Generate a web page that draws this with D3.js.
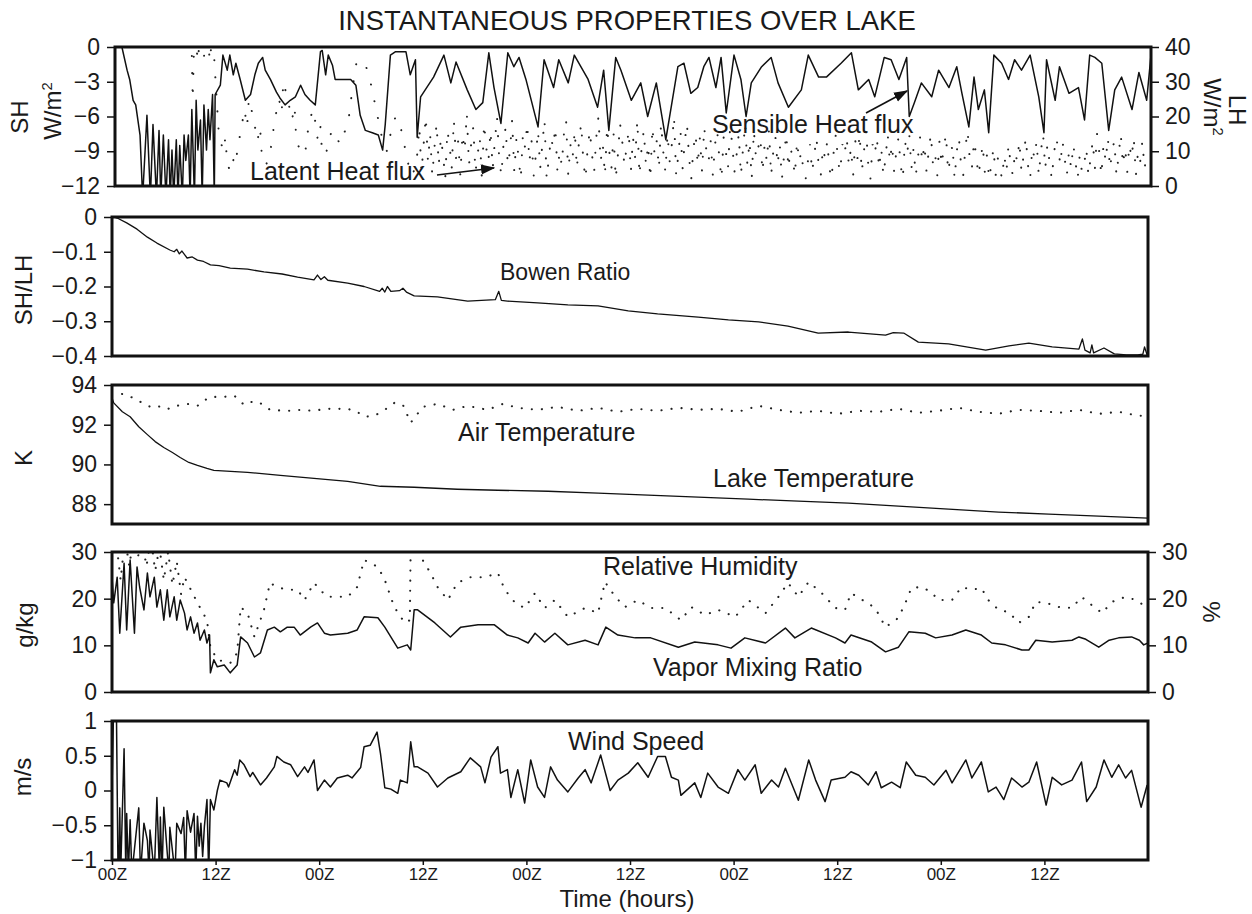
<!DOCTYPE html>
<html><head><meta charset="utf-8">
<script src="https://cdn.jsdelivr.net/npm/d3@7"></script>
<style>
body{margin:0;background:#fff}
text{font-family:"Liberation Sans",Arial,Helvetica,sans-serif;fill:#1a1a1a}
</style>
</head><body>
<svg id="c" width="1252" height="914"></svg>
<script>
// ---------------- DATA (hour, value) ----------------
const timeTicks = [0,12,24,36,48,60,72,84,96,108];
const timeTickLabels = ["00Z","12Z","00Z","12Z","00Z","12Z","00Z","12Z","00Z","12Z"];

const sensibleHeat = [[0.8,0],[1.4,-2.0],[1.7,-2.8],[2.1,-4.6],[2.4,-5.0],[2.9,-7.6],[3.2,-13],[3.7,-5.9],[4.1,-13],[4.4,-6.7],[4.8,-13],[5.1,-7.2],[5.3,-13],[5.6,-7.6],[5.9,-13],[6.2,-8.0],[6.4,-13],[6.6,-8.9],[6.8,-13],[7.1,-8.0],[7.3,-13],[7.5,-8.5],[7.8,-13],[8.0,-7.6],[8.2,-9.8],[8.5,-7.6],[8.7,-13],[8.9,-5.4],[9.2,-13],[9.4,-4.6],[9.6,-8.9],[9.9,-6.3],[10.1,-13],[10.3,-5.0],[10.6,-8.9],[10.8,-5.4],[11.0,-8.0],[11.3,-4.1],[11.5,-13],[11.6,-4.1],
[12.2,-3.3],[12.5,-0.7],[13.0,-2.0],[13.3,-0.7],[13.7,-2.4],[14.0,-1.4],[14.5,-2.8],[15.1,-4.6],[15.7,-4.1],[16.2,-2.4],[16.6,-1.4],[17.1,-0.9],[17.4,-2.0],[18.0,-2.8],[18.7,-3.9],[19.1,-4.4],[19.7,-5.0],[20.3,-4.6],[20.9,-4.3],[21.5,-3.3],[22.0,-4.1],[22.6,-4.6],[23.2,-5.0],[23.8,-0.4],[24.0,-0.3],[24.4,-2.4],[24.7,-0.7],[25.2,-1.6],[25.5,-2.8],[26.7,-2.8],[27.3,-2.8],[27.9,-3.3],[28.4,-5.9],[29.0,-7.2],[29.8,-7.4],[30.5,-7.6],[31.0,-8.9],[31.3,-6.7],[31.9,-0.7],[32.5,-0.4],[33.7,-0.4],[34.2,-2.4],[34.8,-1.1],[35.0,-7.8],[35.4,-4.3],[36.9,-2.6],[38.1,-0.7],[38.9,-3.1],[39.5,-1.3],[40.8,-3.7],[41.8,-5.4],[42.6,-4.8],[43.3,-0.5],[43.9,-3.5],[44.7,-6.6],[45.5,-0.5],[46.2,-1.7],[46.8,-0.9],[47.6,-2.8],[49.0,-6.9],[49.7,-1.1],[50.8,-3.5],[51.4,-1.1],[52.5,-3.1],[53.2,-0.7],[54.8,-2.8],[55.9,-5.2],[56.6,-2.0],[57.2,-7.2],[58.0,-0.9],[58.6,-2.0],[59.8,-4.6],[60.9,-3.1],[61.7,-6.0],[62.7,-3.1],[63.8,-8.0],[65.2,-1.7],[65.9,-1.4],[66.7,-4.0],[67.5,-3.5],[68.2,-1.7],[68.8,-0.9],[69.6,-3.5],[70.2,-0.9],[70.8,-5.7],[71.7,-0.7],[72.5,-2.8],[73.1,-6.0],[73.7,-3.1],[74.9,-1.7],[76.0,-0.9],[76.8,-3.1],[78.0,-5.2],[79.5,-3.7],[80.3,-0.7],[81.5,-2.6],[82.4,-2.6],[84.1,-1.4],[85.3,-0.5],[86.1,-3.7],[87.3,-2.8],[88.0,-4.3],[89.1,-0.9],[89.9,-1.1],[90.8,-2.8],[91.7,-0.9],[92.0,-6.0],[92.6,-4.8],[93.4,-3.1],[94.6,-4.3],[95.4,-2.0],[96.6,-3.5],[97.5,-1.7],[98.1,-4.0],[98.9,-6.9],[99.5,-2.6],[100.0,-5.4],[100.7,-3.7],[101.2,-7.4],[101.8,-0.7],[102.7,-1.4],[103.5,-2.8],[104.2,-1.1],[105.0,-2.0],[106.0,-0.7],[107.0,-4.3],[107.6,-7.4],[107.9,-1.1],[108.9,-4.6],[109.4,-1.7],[110.5,-4.0],[111.6,-3.5],[112.3,-6.3],[112.9,-0.7],[113.5,-0.9],[114.3,-1.4],[115.1,-7.2],[115.8,-3.7],[116.6,-2.6],[117.8,-5.4],[118.6,-2.2],[119.5,-4.6],[120.0,-0.7]];

// Latent heat, first 35 h as (hour, value) pairs
const latentHeatEarly = [[0,50],[8.8,50],[9.0,25],[9.2,45],[9.6,36],[9.9,45],[10.3,37],[10.6,45],[11.0,36],[11.3,45],[11.7,28],[12.0,16],[12.5,10],[12.8,14],[13.0,6],[13.5,4],[13.8,9],[14.0,7.5],[14.5,15],[15.0,22],[15.3,17],[15.5,25],[16.0,20],[16.5,13],[16.8,17],[17.0,9],[17.5,6],[18.0,10],[18.5,19],[19.0,25],[19.3,21],[19.5,30],[20.0,25],[20.5,19],[20.8,23],[21.0,13],[21.5,10],[22.0,9],[22.5,19],[23.0,22],[23.5,13],[23.8,17],[24.0,9],[24.5,10],[25.0,15],[25.5,16],[26.0,12],[26.5,15],[27.0,18],[27.5,28],[28.0,36],[28.5,36],[29.0,35],[29.5,31],[30.0,25],[30.5,19],[31.0,13],[31.5,10],[32.0,16],[32.5,20],[33.0,18],[33.5,12],[34.0,6],[34.5,3]];
// Latent heat from 35 h to 120 h, one value every 15 minutes
const latentHeatStart = 35, latentHeatStep = 0.25;
const latentHeatLate = [9,17,4,12,20,7,15,3,11,18,6,14,9,2,16,12,5,19,8,13,
3,15,10,21,6,12,17,4,9,14,2,18,11,7,16,5,13,20,8,3,
12,17,6,10,19,4,14,8,2,15,11,18,7,13,3,9,16,5,12,19,
2,8,14,11,17,4,10,6,15,19,3,12,8,16,5,13,18,7,2,11,
16,9,4,14,20,7,12,3,17,10,5,15,2,9,18,13,6,11,16,4,
14,8,19,3,11,16,6,12,2,17,9,13,5,18,10,4,15,7,12,20,
3,9,16,5,13,18,8,2,11,15,6,14,4,17,10,7,13,3,12,16,
8,2,14,10,5,17,12,4,9,15,3,11,18,6,13,2,16,8,11,14,
4,12,7,16,3,10,14,6,12,2,9,15,5,11,8,3,13,7,10,4,
2,7,12,4,9,14,6,3,11,8,13,5,2,10,15,7,4,12,9,14,
6,11,3,13,8,15,4,10,16,6,2,12,9,14,5,11,3,8,15,7,
12,4,10,14,6,2,13,9,15,5,11,3,8,14,7,12,4,10,15,6,
9,3,13,6,11,15,4,8,12,2,10,14,6,3,11,16,8,5,13,9,
3,7,12,4,9,2,6,11,3,8,5,2,9,4,12,6,3,10,7,13,
4,9,14,6,2,11,8,13,3,10,15,5,12,7,2,9,14,11,6,13,
8,3,10,5,12,7,2,9,4,6,11,3,8,13,5,15,10,3,12,7,
14,5,10,13,3,9,15,6,11,4,12,8,14,3,10,7,13,5,9,8,8];

const bowenRatio = [[0.2,0],[0.6,-0.003],[1.7,-0.017],[2.9,-0.035],[4.1,-0.058],[5.2,-0.075],[6.7,-0.095],[7.2,-0.100],[7.5,-0.093],[7.8,-0.106],[8.1,-0.098],[8.7,-0.118],[9.3,-0.115],[9.9,-0.124],[10.6,-0.128],[11.4,-0.138],[12.4,-0.140],[13.7,-0.147],[15.7,-0.150],[17.6,-0.158],[19.7,-0.164],[21.5,-0.173],[23.4,-0.181],[23.8,-0.167],[24.2,-0.180],[24.6,-0.172],[25.0,-0.182],[27.3,-0.190],[29.2,-0.200],[31.0,-0.214],[31.3,-0.205],[31.6,-0.216],[31.9,-0.200],[32.3,-0.214],[33.3,-0.212],[33.7,-0.205],[34.1,-0.216],[35.0,-0.227],[37.7,-0.230],[41.2,-0.242],[44.4,-0.238],[44.8,-0.214],[45.1,-0.240],[45.8,-0.242],[49.3,-0.247],[52.8,-0.253],[56.3,-0.256],[59.8,-0.270],[63.2,-0.279],[67.9,-0.288],[71.4,-0.296],[74.9,-0.302],[78.3,-0.314],[81.8,-0.334],[85.3,-0.331],[89.6,-0.340],[90.5,-0.333],[91.7,-0.334],[93.4,-0.360],[96.9,-0.365],[101.2,-0.383],[103.9,-0.371],[106.2,-0.363],[108.9,-0.374],[112.0,-0.380],[112.4,-0.351],[112.7,-0.383],[113.3,-0.391],[113.5,-0.368],[113.7,-0.391],[114.9,-0.377],[116.1,-0.394],[117.5,-0.397],[118.8,-0.397],[119.4,-0.395],[119.6,-0.374],[119.9,-0.397]];

const airTemp = [[0.0,93.6],[0.6,93.6],[1.7,93.5],[2.9,93.25],[4.1,92.95],[4.9,92.85],[5.8,92.95],[6.6,92.8],[7.5,92.95],[8.7,93.05],[9.9,92.95],[10.4,93.15],[11.4,93.4],[12.8,93.4],[14.2,93.45],[15.3,93.0],[16.5,93.2],[17.6,93.0],[18.3,92.75],[20.3,92.7],[22.0,92.75],[23.2,92.7],[24.9,92.8],[27.3,92.8],[28.4,92.65],[29.2,92.4],[30.4,92.45],[31.6,92.75],[32.7,93.1],[33.7,93.0],[34.6,92.1],[36.0,92.9],[37.7,93.05],[39.5,92.75],[41.2,92.95],[43.5,92.75],[45.3,93.05],[47.0,92.85],[49.3,92.75],[51.6,92.9],[54.0,92.7],[56.3,92.85],[58.6,92.65],[60.9,92.8],[63.2,92.7],[65.6,92.85],[67.9,92.75],[70.2,92.8],[72.5,92.65],[74.9,92.95],[77.2,92.75],[79.5,92.6],[81.8,92.7],[84.1,92.55],[86.5,92.7],[88.8,92.65],[91.1,92.8],[93.4,92.6],[95.7,92.7],[98.1,92.85],[100.4,92.65],[102.7,92.55],[105.0,92.75],[107.3,92.7],[109.7,92.6],[112.0,92.75],[114.3,92.55],[116.6,92.65],[118.9,92.45],[120.0,92.45]];

const lakeTemp = [[0.0,93.35],[0.2,93.1],[1.2,92.65],[2.1,92.4],[3.1,91.9],[4.1,91.5],[5.0,91.15],[6.0,90.85],[7.0,90.6],[7.9,90.35],[8.9,90.1],[9.9,89.95],[11.0,89.8],[11.8,89.7],[15.7,89.6],[19.5,89.45],[23.4,89.3],[27.3,89.15],[31.1,88.9],[35.0,88.85],[40.0,88.75],[44.7,88.7],[50.5,88.65],[56.3,88.55],[62.1,88.45],[67.9,88.35],[73.7,88.25],[79.5,88.15],[85.3,88.05],[91.1,87.9],[96.9,87.75],[102.7,87.6],[108.5,87.5],[114.3,87.4],[120.0,87.3]];

const vaporMixing = [[0.0,24.6],[0.2,19.1],[0.6,24.6],[0.9,12.6],[1.4,27.6],[1.7,13.3],[2.1,28.3],[2.6,12.6],[2.9,26.8],[3.2,22.5],[3.7,17.6],[4.1,25.5],[4.4,20.4],[4.9,24.6],[5.2,18.2],[5.6,21.9],[6.0,15.4],[6.4,21.9],[6.7,16.1],[7.2,20.4],[7.5,15.4],[7.9,19.7],[8.4,16.9],[8.7,13.3],[9.1,16.1],[9.5,12.6],[9.9,14.8],[10.2,11.1],[10.7,13.3],[11.0,10.5],[11.3,12.2],[11.4,4.1],[11.8,6.9],[12.2,5.4],[13.0,5.8],[13.7,4.1],[14.5,5.8],[14.9,11.8],[15.7,10.5],[16.5,7.5],[17.2,8.4],[18.0,13.3],[18.8,13.9],[19.5,12.9],[20.3,13.9],[21.1,13.9],[21.8,12.2],[23.0,13.9],[23.8,14.8],[24.6,12.6],[25.3,12.2],[27.3,12.6],[28.4,13.3],[29.2,16.1],[30.8,15.9],[31.6,13.9],[33.1,9.4],[34.2,10.1],[34.6,9.0],[35.0,17.6],[35.4,17.6],[37.4,14.8],[39.2,11.8],[40.4,13.9],[42.4,14.4],[44.3,14.4],[45.8,12.2],[47.0,11.6],[48.2,10.5],[49.0,12.6],[50.1,10.7],[51.3,12.6],[52.8,10.1],[54.8,11.1],[56.3,10.1],[57.2,13.9],[58.6,12.2],[60.6,11.6],[62.4,11.6],[65.6,9.6],[67.5,10.7],[70.2,10.1],[71.7,9.4],[73.3,11.6],[75.7,10.5],[78.0,13.7],[79.1,11.6],[81.0,13.7],[83.8,11.6],[84.9,10.5],[85.6,12.2],[88.0,10.7],[89.6,8.6],[91.1,9.6],[92.3,12.9],[94.2,12.6],[95.4,11.6],[97.3,12.2],[98.9,13.3],[100.7,12.2],[101.9,10.5],[103.5,10.1],[105.4,9.0],[106.2,9.0],[107.0,11.1],[108.9,10.7],[111.2,11.1],[112.0,11.8],[112.8,11.3],[114.3,9.6],[115.5,11.1],[116.6,11.6],[118.1,11.8],[119.0,11.1],[119.5,10.1],[120.0,10.5]];

const relHumidity = [[0.0,29],[0.5,32],[1.0,24],[1.5,33],[2.0,27],[2.5,33],[3.0,29],[3.5,32],[4.0,27],[4.5,33],[5.0,26],[5.5,31],[6.0,24],[6.5,30],[7.0,23],[7.5,28],[8.0,21],[8.4,24.6],[9.9,19.1],[11.0,15.4],[11.4,9.6],[12.2,6.9],[13.7,6.2],[14.5,8.4],[14.9,18.2],[15.7,16.9],[16.5,11.8],[17.6,17.6],[18.3,23.4],[19.1,22.5],[20.3,21.9],[21.5,21.9],[22.3,19.7],[23.4,23.4],[24.1,21.9],[24.9,20.4],[27.3,20.4],[28.4,22.5],[29.2,28.3],[30.8,26.8],[31.6,24.0],[32.7,18.2],[33.9,14.8],[34.5,15.4],[34.6,32],[34.8,32],[36.2,27.6],[36.9,25.5],[37.7,22.5],[38.9,19.7],[40.0,23.4],[41.5,24.6],[43.2,24.6],[44.7,25.5],[45.5,21.9],[46.7,19.1],[47.8,18.0],[49.0,21.2],[50.1,18.0],[51.3,19.7],[52.8,16.1],[54.8,18.0],[56.3,16.9],[57.1,23.6],[58.3,20.4],[59.4,18.2],[60.9,19.7],[62.4,18.0],[64.1,18.0],[65.9,15.4],[67.1,18.2],[68.7,16.5],[70.2,17.6],[72.2,16.1],[73.7,19.7],[75.7,16.9],[77.2,20.4],[78.3,23.4],[79.5,20.4],[80.7,23.6],[82.2,21.2],[83.8,18.0],[84.9,17.6],[85.6,21.2],[87.3,19.3],[88.4,18.0],[89.6,13.9],[91.1,15.9],[91.9,19.1],[92.6,22.3],[93.8,22.5],[94.9,21.4],[95.7,19.7],[97.3,19.7],[98.4,22.5],[99.6,21.9],[100.7,22.3],[101.5,19.7],[102.7,17.6],[103.9,17.1],[105.0,14.8],[106.2,16.1],[107.0,19.3],[108.2,19.1],[109.7,18.2],[111.2,18.0],[112.3,20.4],[113.5,18.6],[114.7,16.9],[115.8,19.3],[117.4,20.4],[118.6,19.7],[119.5,18.6],[120.0,17.6]];

const windSpeed = [[0.0,0.0],[0.2,1.3],[0.5,1.3],[0.7,-1.2],[0.8,-1.2],[0.9,-0.25],[1.0,-1.2],[1.4,0.6],[1.6,-1.2],[1.7,-0.33],[1.9,-1.2],[2.1,-0.42],[2.3,-1.2],[3.1,-0.25],[3.3,-1.2],[3.7,-0.47],[4.1,-0.72],[4.3,-1.2],[4.4,-0.57],[4.9,-1.2],[5.2,-0.1],[5.5,-1.2],[5.6,-0.38],[5.8,-1.2],[6.0,-0.24],[6.4,-0.9],[6.6,-1.2],[6.7,-0.53],[7.3,-1.2],[7.5,-0.47],[8.0,-0.62],[8.3,-0.39],[8.5,-1.2],[8.7,-0.29],[9.1,-0.6],[9.5,-0.33],[9.7,-1.2],[9.9,-0.37],[10.1,-0.8],[10.3,-0.47],[10.5,-0.95],[10.7,-0.52],[11.0,-0.13],[11.2,-1.2],[11.4,-0.13],[11.8,-0.28],[12.2,0.0],[12.5,0.15],[13.3,0.11],[13.5,0.05],[14.2,0.3],[14.5,0.22],[14.8,0.44],[15.3,0.37],[16.0,0.2],[16.3,0.26],[17.2,0.08],[17.9,0.18],[18.8,0.34],[19.1,0.49],[19.9,0.41],[20.7,0.37],[21.5,0.2],[22.3,0.34],[22.7,0.26],[23.4,0.44],[23.8,0.0],[24.6,0.15],[25.3,0.05],[26.1,0.18],[27.3,0.22],[27.8,0.18],[28.8,0.33],[29.2,0.63],[29.9,0.65],[30.7,0.84],[31.1,0.53],[31.6,0.04],[32.3,0.02],[33.1,-0.04],[33.4,0.15],[34.2,0.11],[34.6,0.7],[35.0,0.34],[35.4,0.34],[36.6,0.25],[37.7,0.05],[38.9,0.18],[40.4,0.27],[41.5,0.47],[42.7,0.34],[43.2,0.11],[43.9,0.48],[44.7,0.63],[45.0,0.25],[45.8,0.3],[46.2,-0.1],[47.0,0.3],[47.8,-0.18],[48.5,0.44],[49.3,0.05],[50.1,-0.1],[50.8,0.34],[51.6,0.15],[52.8,-0.02],[54.0,0.18],[54.8,0.3],[55.5,0.11],[56.6,0.51],[57.7,0.0],[58.6,0.15],[59.8,0.25],[60.9,0.4],[62.1,0.19],[63.2,0.49],[64.1,0.49],[64.8,0.19],[65.6,0.15],[65.9,-0.07],[67.5,0.11],[68.2,-0.1],[69.0,0.25],[70.2,0.05],[71.4,-0.04],[72.5,0.3],[73.3,0.15],[74.5,0.37],[75.2,-0.04],[76.4,0.15],[77.2,0.05],[78.0,0.32],[79.5,-0.14],[80.7,0.44],[81.5,0.15],[82.6,-0.16],[83.3,0.15],[84.9,0.19],[85.6,0.27],[86.5,0.22],[87.6,0.08],[88.5,0.27],[89.1,0.04],[90.3,0.12],[91.3,0.04],[92.0,0.41],[93.1,0.22],[94.2,0.19],[95.2,0.08],[96.6,0.29],[97.3,0.11],[98.9,0.44],[99.6,0.18],[100.7,0.41],[101.5,-0.02],[102.4,0.05],[103.3,-0.13],[104.2,0.18],[105.4,0.05],[106.2,0.12],[107.1,0.41],[108.2,-0.21],[108.9,0.19],[110.0,0.08],[111.2,0.15],[112.3,0.41],[112.9,-0.16],[114.0,0.05],[114.9,0.44],[115.8,0.19],[116.6,0.37],[117.4,0.18],[118.1,0.29],[119.2,-0.24],[119.9,0.08]];

const shTicks = [0,-3,-6,-9,-12];
const lhTicks = [0,10,20,30,40];
const bowenTicks = [0,-0.1,-0.2,-0.3,-0.4];
const tempTicks = [88,90,92,94];
const qTicks = [0,10,20,30];
const rhTicks = [0,10,20,30];
const windTicks = [-1,-0.5,0,0.5,1];

// ---------------- DRAWING ----------------
const latentHeat = latentHeatEarly.concat(latentHeatLate.map((v,i)=>[latentHeatStart+i*latentHeatStep, v]));
const fmt = d => d===0 ? "0" : (d<0 ? "\u2212" : "") + String(Math.abs(d));
const svg = d3.select("#c");
const ink = "#111";
const defs = svg.append("defs");
defs.append("marker").attr("id","arr").attr("viewBox","0 0 10 10").attr("refX",9).attr("refY",5)
  .attr("markerWidth",9).attr("markerHeight",9).attr("orient","auto-start-reverse")
  .append("path").attr("d","M0,1.5 L10,5 L0,8.5 Z").attr("fill",ink);

const panelDefs = [
  {x0:115,x1:1151,top:47,bottom:186},
  {x0:112,x1:1148,top:217,bottom:356},
  {x0:112,x1:1148,top:385,bottom:524},
  {x0:112,x1:1148,top:552,bottom:692},
  {x0:112,x1:1148,top:721,bottom:860}
];

function styleAxis(ax, fs){
  ax.attr("font-size",fs).attr("font-family",'"Liberation Sans",Arial,sans-serif');
  ax.select(".domain").remove();
  ax.selectAll("line").attr("stroke",ink).attr("stroke-width",1.5);
  ax.selectAll("text").attr("font-size",fs).style("font-size",fs+"px").attr("fill",ink);
}
function makePanel(i, yDomain, ticks){
  const p = panelDefs[i];
  const x = d3.scaleLinear().domain([0,120]).range([p.x0,p.x1]);
  const y = d3.scaleLinear().domain(yDomain).range([p.bottom,p.top]);
  defs.append("clipPath").attr("id","clip"+i).append("rect")
    .attr("x",p.x0).attr("y",p.top).attr("width",p.x1-p.x0).attr("height",p.bottom-p.top);
  const g = svg.append("g");
  const plot = g.append("g").attr("clip-path",`url(#clip${i})`);
  const ax = g.append("g").attr("transform",`translate(${p.x0},0)`)
    .call(d3.axisLeft(y).tickValues(ticks).tickSize(8).tickPadding(7).tickFormat(fmt));
  styleAxis(ax, 23);
  return {x,y,g,plot,p};
}
function frame(P){
  P.g.append("rect").attr("x",P.p.x0).attr("y",P.p.top).attr("width",P.p.x1-P.p.x0)
    .attr("height",P.p.bottom-P.p.top).attr("fill","none").attr("stroke",ink).attr("stroke-width",3);
}
function solid(P, data, ys, w){
  const line = d3.line().x(d=>P.x(d[0])).y(d=>(ys||P.y)(d[1]));
  P.plot.append("path").datum(data).attr("d",line).attr("fill","none")
    .attr("stroke",ink).attr("stroke-width",w||1.5).attr("stroke-linejoin","round");
}
function dotted(P, data, ys, gap, w){
  const line = d3.line().x(d=>P.x(d[0])).y(d=>(ys||P.y)(d[1]));
  P.plot.append("path").datum(data).attr("d",line).attr("fill","none")
    .attr("stroke","#222").attr("stroke-width",w||2.1).attr("stroke-linecap","round")
    .attr("stroke-dasharray",`0.1 ${gap}`);
}
function label(txt,x,y,fs,anchor,rot){
  const t = svg.append("text").attr("x",x).attr("y",y).style("font-size",fs+"px")
    .attr("text-anchor",anchor||"start").text(txt);
  if(rot) t.attr("transform",`rotate(${rot},${x},${y})`);
  return t;
}
function unitLabel(parts,x,y,fs,rot){
  const t = svg.append("text").attr("x",x).attr("y",y).style("font-size",fs+"px")
    .attr("text-anchor","middle").attr("transform",`rotate(${rot},${x},${y})`);
  parts.forEach(([s,sup])=>{
    const ts=t.append("tspan").text(s);
    if(sup) ts.attr("dy",-9).style("font-size",(fs*0.62)+"px");
  });
  return t;
}

// Title
label("INSTANTANEOUS PROPERTIES OVER LAKE",627,30,27.5,"middle");

// Panel 1: SH (left) / LH (right)
const P1 = makePanel(0,[-12,0],shTicks);
const yLH = d3.scaleLinear().domain([0,40]).range([P1.p.bottom,P1.p.top]);
dotted(P1, latentHeat, yLH, 17, 2.0);
solid(P1, sensibleHeat);
const axR1 = P1.g.append("g").attr("transform",`translate(${P1.p.x1},0)`)
  .call(d3.axisRight(yLH).tickValues(lhTicks).tickSize(8).tickPadding(6).tickFormat(fmt));
styleAxis(axR1,23);
frame(P1);
label("SH",28,117,24,"middle",-90);
unitLabel([["W/m"],["2",true]],61,111,24,-90);
unitLabel([["W/m"],["2",true]],1204,107,24,90);
label("LH",1229,110,24,"middle",90);
label("Latent Heat flux",250,180,25);
label("Sensible Heat flux",712,133,25);
svg.append("line").attr("x1",437).attr("y1",175).attr("x2",494).attr("y2",168)
  .attr("stroke",ink).attr("stroke-width",1.6).attr("marker-end","url(#arr)");
svg.append("line").attr("x1",866).attr("y1",113).attr("x2",907).attr("y2",91)
  .attr("stroke",ink).attr("stroke-width",1.6).attr("marker-end","url(#arr)");

// Panel 2: Bowen
const P2 = makePanel(1,[-0.4,0],bowenTicks);
solid(P2, bowenRatio, null, 1.3);
frame(P2);
label("SH/LH",32,290,24,"middle",-90);
label("Bowen Ratio",500,280,23);

// Panel 3: temperatures
const P3 = makePanel(2,[87,94],tempTicks);
dotted(P3, airTemp, null, 10);
solid(P3, lakeTemp, null, 1.3);
frame(P3);
label("K",32,458,24,"middle",-90);
label("Air Temperature",458,441,25);
label("Lake Temperature",713,487,25);

// Panel 4: humidity
const P4 = makePanel(3,[0,30],qTicks);
const yRH = d3.scaleLinear().domain([0,30]).range([P4.p.bottom,P4.p.top]);
dotted(P4, relHumidity, yRH, 10);
solid(P4, vaporMixing);
const axR4 = P4.g.append("g").attr("transform",`translate(${P4.p.x1},0)`)
  .call(d3.axisRight(yRH).tickValues(rhTicks).tickSize(8).tickPadding(6).tickFormat(fmt));
styleAxis(axR4,23);
frame(P4);
label("g/kg",33,625,24,"middle",-90);
label("%",1203,612,24,"middle",90);
label("Relative Humidity",603,575,25);
label("Vapor Mixing Ratio",653,676,25);

// Panel 5: wind
const P5 = makePanel(4,[-1,1],windTicks);
solid(P5, windSpeed);
const axB = P5.g.append("g").attr("transform",`translate(0,${P5.p.bottom})`)
  .call(d3.axisBottom(P5.x).tickValues(timeTicks).tickSize(5).tickPadding(3)
  .tickFormat((d,i)=>timeTickLabels[i]));
styleAxis(axB,17);
frame(P5);
label("m/s",31,777,24,"middle",-90);
label("Wind Speed",568,750,25);
label("Time (hours)",627,907,24,"middle");
</script>
</body></html>
